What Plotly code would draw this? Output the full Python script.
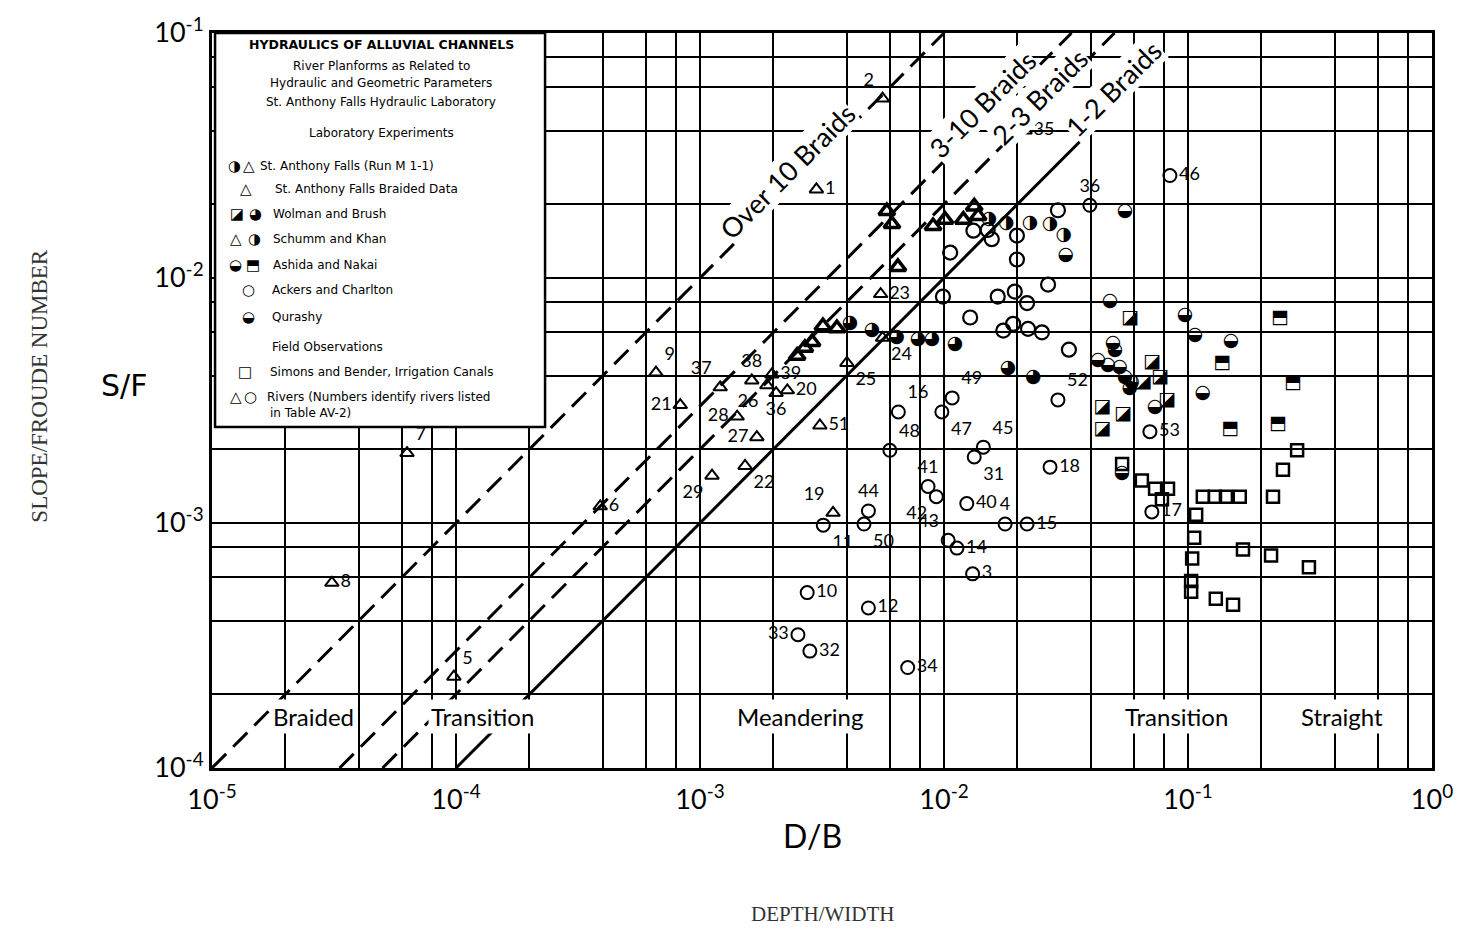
import math
import plotly.graph_objects as go

# ---------------- data (D/B, S/F) ----------------
# Rivers - open triangles (numbered)
tri_id = ["1", "2", "35", "23", "24", "25", "51", "22", "27", "28", "37", "38", "39", "26",
          "36", "20", "9", "21", "29", "6", "7", "8", "5", "19"]
tri_x = [0.0030, 0.0056, 0.0215, 0.0055, 0.0056, 0.0040, 0.0031, 0.00153, 0.00171, 0.00142,
         0.00121, 0.00163, 0.00197, 0.00188, 0.00205, 0.00228, 0.00066, 0.00083, 0.00112,
         0.00039, 0.000063, 0.000031, 0.000098, 0.00351]
tri_y = [0.023, 0.054, 0.040, 0.0086, 0.0057, 0.0045, 0.0025, 0.00171, 0.00224, 0.00272,
         0.00358, 0.00382, 0.00404, 0.00365, 0.00339, 0.00348, 0.00411, 0.00303, 0.00156,
         0.00117, 0.00193, 0.00057, 0.000236, 0.00110]

# Rivers - open circles (numbered)
circ_id = ["36", "46", "52", "49", "47", "16", "48", "45", "31", "18", "41", "42", "40", "44",
           "50", "11", "4", "15", "43", "14", "3", "10", "12", "33", "32", "34", "53", "17"]
circ_x = [0.0396, 0.0843, 0.0293, 0.0108, 0.0098, 0.0065, 0.0060, 0.0145, 0.0133, 0.0272,
          0.0086, 0.0093, 0.0124, 0.0049, 0.0047, 0.0032, 0.0178, 0.0219, 0.0104, 0.0113,
          0.0131, 0.00275, 0.0049, 0.00252, 0.00282, 0.0071, 0.0698, 0.0711]
circ_y = [0.0198, 0.0262, 0.00318, 0.00324, 0.00284, 0.00284, 0.00198, 0.00204, 0.00186,
          0.00169, 0.00141, 0.00128, 0.00120, 0.00112, 0.00099, 0.00098, 0.00099, 0.00099,
          0.00085, 0.00079, 0.00062, 0.00052, 0.00045, 0.00035, 0.00030, 0.000257, 0.00236,
          0.00111]

# Ackers and Charlton - open circles
ackers_x = [0.0293, 0.0132, 0.0151, 0.0157, 0.0199, 0.0199, 0.0106, 0.0267, 0.0195, 0.0166,
            0.0219, 0.0099, 0.0128, 0.0175, 0.0192, 0.0221, 0.0252, 0.0325]
ackers_y = [0.0189, 0.0156, 0.0157, 0.0144, 0.0149, 0.0119, 0.0127, 0.0094, 0.0088, 0.0084,
            0.0079, 0.0084, 0.0069, 0.0061, 0.0065, 0.0062, 0.0060, 0.0051]

# St. Anthony Falls braided data / Schumm and Khan - bold triangles
bold_tri_x = [0.00583, 0.00612, 0.00647, 0.00902, 0.0101, 0.0120, 0.0133, 0.0138, 0.00319,
              0.00364, 0.0025, 0.00269, 0.00288]
bold_tri_y = [0.01875, 0.0166, 0.0111, 0.0163, 0.0173, 0.0173, 0.0196, 0.0179, 0.00636,
              0.00624, 0.00482, 0.00519, 0.00548]

# St. Anthony Falls (Run M 1-1) - half circles
saf_x = [0.0153, 0.0180, 0.0225, 0.0272, 0.0310]
saf_y = [0.0174, 0.0168, 0.0168, 0.0165, 0.0149]

# Schumm and Khan / Wolman and Brush - circles
schumm_x = [0.00412, 0.00507, 0.00641, 0.00782, 0.00893, 0.0111, 0.0183, 0.0232]
schumm_y = [0.00653, 0.00612, 0.00574, 0.00564, 0.00564, 0.00538, 0.00427, 0.00393]

# Qurashy / Ashida and Nakai - half circles
half_x = [0.0316, 0.0552, 0.0479, 0.0973, 0.107, 0.150, 0.0493, 0.0502, 0.0428, 0.0470,
          0.0526, 0.0552, 0.0589, 0.0578, 0.0733, 0.115, 0.0537]
half_y = [0.01236, 0.01875, 0.00801, 0.00703, 0.00585, 0.00553, 0.00543, 0.00505, 0.00460,
          0.00440, 0.00431, 0.00393, 0.00375, 0.00355, 0.00298, 0.00339, 0.00159]

# Wolman and Brush - squares
wolman_x = [0.0578, 0.0711, 0.0655, 0.0767, 0.0820, 0.0445, 0.0542, 0.0445]
wolman_y = [0.00685, 0.00452, 0.00375, 0.00393, 0.00318, 0.00298, 0.00279, 0.00241]

# Ashida and Nakai - squares
ashida_x = [0.238, 0.138, 0.269, 0.149, 0.234]
ashida_y = [0.00685, 0.00448, 0.00372, 0.00241, 0.00252]

# Simons and Bender, irrigation canals - open squares
simons_x = [0.280, 0.245, 0.0537, 0.0647, 0.0733, 0.0828, 0.0782, 0.115, 0.129, 0.143, 0.163,
            0.223, 0.108, 0.106, 0.168, 0.219, 0.104, 0.313, 0.103, 0.103, 0.130, 0.153]
simons_y = [0.00198, 0.00165, 0.00174, 0.00149, 0.00138, 0.00138, 0.00125, 0.00128, 0.00128,
            0.00128, 0.00128, 0.00128, 0.00108, 0.00087, 0.00078, 0.000737, 0.000717,
            0.000659, 0.00058, 0.000524, 0.000491, 0.000464]

# Braid boundaries  S/F = ratio * D/B
braid_ratio = [10, 3, 2, 1]
braid_label = ["Over 10 Braids", "3-10 Braids", "2-3 Braids", "1-2 Braids"]
solid_end = 0.058   # the 1-2 braids boundary stops here

# Region labels
region_label = ["Braided", "Transition", "Meandering", "Transition", "Straight"]
region_x = [2.6e-5, 1.29e-4, 2.57e-3, 0.0893, 0.428]
region_y = 1.63e-4

x_ticks = [1e-5, 1e-4, 1e-3, 1e-2, 1e-1, 1]
x_ticktext = ["10<sup>-5</sup>", "10<sup>-4</sup>", "10<sup>-3</sup>", "10<sup>-2</sup>",
              "10<sup>-1</sup>", "10<sup>0</sup>"]
y_ticks = [1e-4, 1e-3, 1e-2, 1e-1]
y_ticktext = ["10<sup>-4</sup>", "10<sup>-3</sup>", "10<sup>-2</sup>", "10<sup>-1</sup>"]

# ---------------- styles ----------------
tri_pos = ["middle right", "top left", "middle right", "middle right", "bottom right",
           "bottom right", "middle right", "bottom right", "middle left", "middle left",
           "top left", "top center", "middle right", "bottom left", "bottom center",
           "middle right", "top right", "middle left", "bottom left", "middle right",
           "top right", "middle right", "top right", "top left"]
circ_pos = ["top center", "middle right", "top right", "top right", "bottom right", "top right",
            "top right", "top right", "bottom right", "middle right", "top center",
            "bottom left", "middle right", "top center", "bottom right", "bottom right",
            "top center", "middle right", "top left", "middle right", "middle right",
            "middle right", "middle right", "middle left", "middle right", "middle right",
            "middle right", "middle right"]

SANS = "Lato, 'DejaVu Sans', sans-serif"
GLYPH = "DejaVu Sans"
LABEL_FONT = dict(family=SANS, size=18, color="black")

fig = go.Figure()

# braid boundary lines
for r in braid_ratio:
    x0 = max(1e-4 / r, 1e-5)
    if r == 1:
        xs = [x0, solid_end]
        dash = "solid"
    else:
        xs = [x0, 0.1 / r]
        dash = "20px,10px"
    fig.add_trace(go.Scatter(x=xs, y=[r * v for v in xs], mode="lines",
                             line=dict(color="black", width=3, dash=dash),
                             hoverinfo="skip", showlegend=False))

# open triangles (rivers)
fig.add_trace(go.Scatter(x=tri_x, y=tri_y, mode="markers+text", text=tri_id,
                         textposition=tri_pos, textfont=LABEL_FONT,
                         marker=dict(symbol="triangle-up-open", size=12, color="black",
                                     line=dict(color="black", width=2)),
                         showlegend=False))
# open circles (rivers)
fig.add_trace(go.Scatter(x=circ_x, y=circ_y, mode="markers+text", text=circ_id,
                         textposition=circ_pos, textfont=LABEL_FONT,
                         marker=dict(symbol="circle-open", size=13, color="black",
                                     line=dict(color="black", width=2)),
                         showlegend=False))
# Ackers and Charlton
fig.add_trace(go.Scatter(x=ackers_x, y=ackers_y, mode="markers",
                         marker=dict(symbol="circle-open", size=14, color="black",
                                     line=dict(color="black", width=2.2)),
                         showlegend=False))
# bold triangles
fig.add_trace(go.Scatter(x=bold_tri_x, y=bold_tri_y, mode="markers",
                         marker=dict(symbol="triangle-up-open", size=14, color="black",
                                     line=dict(color="black", width=3.5)),
                         showlegend=False))
# open squares
fig.add_trace(go.Scatter(x=simons_x, y=simons_y, mode="markers",
                         marker=dict(symbol="square-open", size=12, color="black",
                                     line=dict(color="black", width=2.5)),
                         showlegend=False))

# half-filled symbols drawn as glyphs
for xs, ys, g in [(saf_x, saf_y, "◑"), (schumm_x, schumm_y, "◕"), (half_x, half_y, "◒"),
                  (wolman_x, wolman_y, "◪"), (ashida_x, ashida_y, "⬒")]:
    fig.add_trace(go.Scatter(x=xs, y=ys, mode="text", text=[g] * len(xs),
                             textposition="middle center",
                             textfont=dict(family=GLYPH, size=19, color="black"),
                             showlegend=False, hoverinfo="x+y"))

annotations = []
# braid labels
braid_pos = [(-2.643, -1.566), (-1.844, -1.293), (-1.607, -1.261), (-1.307, -1.225)]
for lab, (lx, ly) in zip(braid_label, braid_pos):
    annotations.append(dict(x=lx, y=ly, xref="x", yref="y", text=lab, showarrow=False,
                            textangle=-45, bgcolor="white", borderpad=0,
                            font=dict(family=SANS, size=27, color="black")))
# region labels
for lab, rx in zip(region_label, region_x):
    annotations.append(dict(x=math.log10(rx), y=math.log10(region_y), xref="x", yref="y",
                            text=lab, showarrow=False, bgcolor="white", borderpad=2,
                            font=dict(family=SANS, size=24, color="black")))

# axis titles
annotations += [
    dict(x=-0.093, y=0.52, xref="paper", yref="paper", text="S/F", showarrow=False,
         font=dict(family="DejaVu Sans", size=30, color="black")),
    dict(x=-0.153, y=0.52, xref="paper", yref="paper", text="SLOPE/FROUDE NUMBER",
         showarrow=False, textangle=-90,
         font=dict(family="Liberation Serif", size=23, color="#333")),
    dict(x=0.492, y=-0.121, xref="paper", yref="paper", text="D/B", showarrow=False,
         font=dict(family=SANS, size=32, color="black")),
    dict(x=0.5, y=-0.218, xref="paper", yref="paper", text="DEPTH/WIDTH", showarrow=False,
         font=dict(family="Liberation Serif", size=21, color="#333")),
]


# legend box content
def px2paper(px, py):
    return (px - 212) / 1220, (768 - py) / 746


def lg(px, py, txt, size=12.5, anchor="left", bold=False, font=None):
    xp, yp = px2paper(px, py)
    annotations.append(dict(x=xp, y=yp, xref="paper", yref="paper",
                            text=f"<b>{txt}</b>" if bold else txt, showarrow=False,
                            xanchor=anchor, yanchor="middle",
                            font=dict(family=font or "DejaVu Sans", size=size, color="black")))


lg(381, 34, "HYDRAULICS OF ALLUVIAL CHANNELS", 12.5, "center", True)
lg(381, 55, "River Planforms as Related to", 12, "center")
lg(381, 73, "Hydraulic and Geometric Parameters", 12, "center")
lg(381, 92, "St. Anthony Falls Hydraulic Laboratory", 12, "center")
lg(381, 124, "Laboratory Experiments", 12, "center")
rows = [
    (157, [(234, "◑", None), (249, "△", "DejaVu Sans")], 258, "St. Anthony Falls (Run M 1-1)"),
    (180, [(246, "△", "DejaVu Sans")], 273, "St. Anthony Falls Braided Data"),
    (206, [(237, "◪", None), (255, "◕", None)], 271, "Wolman and Brush"),
    (231, [(236, "△", "DejaVu Sans"), (254, "◑", None)], 271, "Schumm and Khan"),
    (257, [(235, "◒", None), (253, "⬒", None)], 271, "Ashida and Nakai"),
    (283, [(248, "○", None)], 270, "Ackers and Charlton"),
    (310, [(248, "◒", None)], 270, "Qurashy"),
    (366, [(245, "□", None)], 268, "Simons and Bender, Irrigation Canals"),
    (391, [(236, "△", None), (250, "○", None)], 265, "Rivers (Numbers identify rivers listed"),
]
for py, syms, tx, txt in rows:
    for sx, g, f in syms:
        lg(sx, py, g, 15, "center", bold=(f is not None), font=f)
    lg(tx, py, txt, 12)
lg(270, 341, "Field Observations", 12)
lg(268, 408, "in Table AV-2)", 12)

x_minor = [m * 10 ** k for k in range(-5, 0) for m in (2, 4, 6, 8)]
y_minor = [m * 10 ** k for k in range(-4, -1) for m in (2, 4, 6, 8)]

fig.update_layout(
    width=1472, height=945,
    margin=dict(l=212, r=40, t=22, b=177),
    paper_bgcolor="white", plot_bgcolor="white",
    showlegend=False,
    annotations=annotations,
    shapes=[dict(type="rect", xref="paper", yref="paper", x0=0.0025, x1=0.273, y0=0.464,
                 y1=1.0, fillcolor="white", line=dict(color="black", width=2.5),
                 layer="above")],
    xaxis=dict(type="log", range=[-5, 0], tickvals=x_ticks, ticktext=x_ticktext,
               tickfont=dict(family=SANS, size=27, color="black"), ticklabelstandoff=6,
               showgrid=True, gridcolor="black", gridwidth=2, zeroline=False,
               showline=True, linecolor="black", linewidth=3, mirror=True, ticks="",
               minor=dict(tickvals=x_minor, showgrid=True, gridcolor="black",
                          gridwidth=2, ticks="")),
    yaxis=dict(type="log", range=[-4, -1], tickvals=y_ticks, ticktext=y_ticktext,
               tickfont=dict(family=SANS, size=27, color="black"),
               showgrid=True, gridcolor="black", gridwidth=2, zeroline=False,
               showline=True, linecolor="black", linewidth=3, mirror=True, ticks="",
               minor=dict(tickvals=y_minor, showgrid=True, gridcolor="black",
                          gridwidth=2, ticks="")),
)

fig.write_html("out.html")
